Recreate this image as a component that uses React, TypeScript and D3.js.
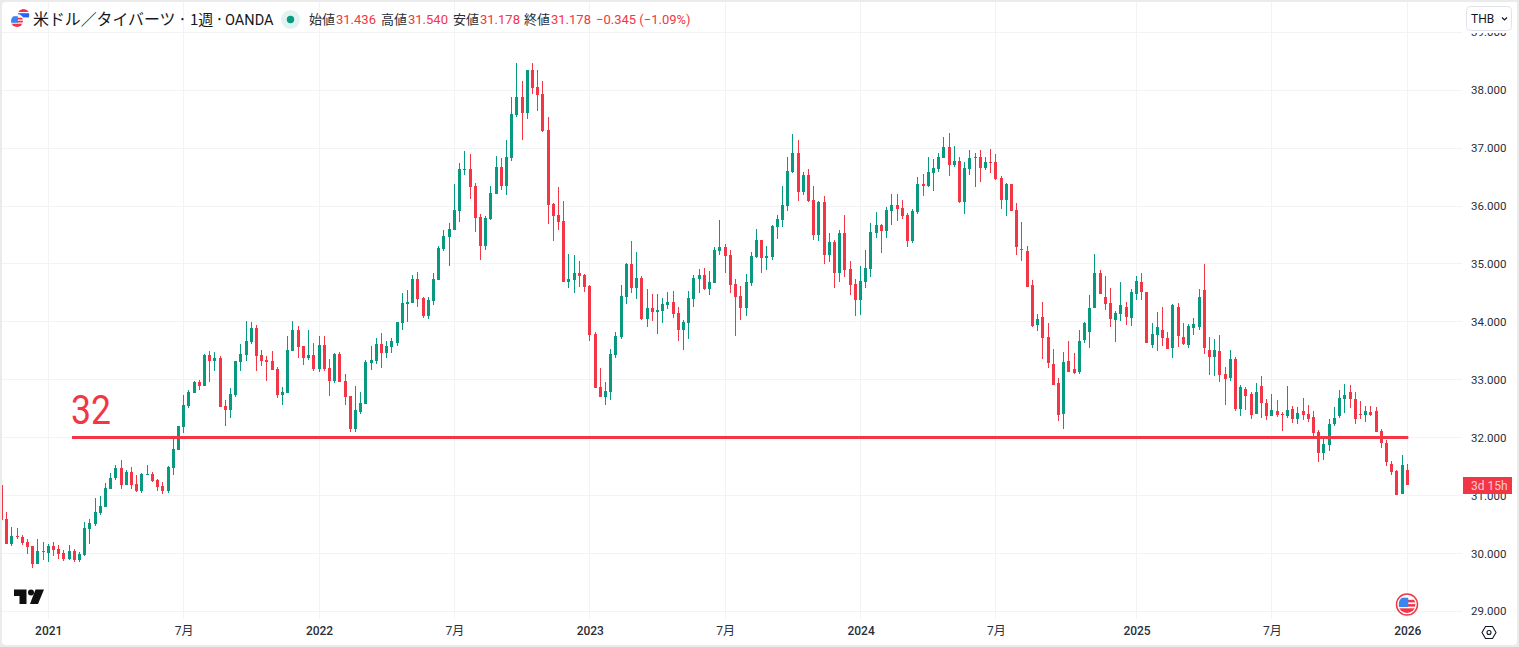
import * as d3 from "d3";
import React from "react";

const opens = [
  31.18,30.59,30.16,30.30,30.28,30.20,30.13,29.82,30.04,30.01,
  30.13,30.07,30.01,29.90,30.04,29.88,29.97,30.42,30.51,30.70,
  30.80,31.11,31.30,31.47,31.18,31.40,31.20,31.08,31.35,31.37,
  31.26,31.16,31.07,31.47,31.78,32.18,32.54,32.77,32.96,32.89,
  33.42,33.32,33.37,32.54,32.47,32.73,33.30,33.42,33.65,33.89,
  33.42,33.34,33.32,33.18,32.73,32.77,33.49,33.86,33.58,33.37,
  33.42,33.18,33.60,33.20,32.98,33.44,32.98,32.72,32.15,32.45,
  32.58,33.29,33.32,33.61,33.46,33.57,33.64,33.98,34.31,34.32,
  34.74,34.41,34.10,34.36,34.72,35.26,35.46,35.59,35.91,36.62,
  36.64,36.35,35.81,35.31,35.78,36.21,36.67,36.34,36.83,37.57,
  37.88,37.61,38.35,38.05,37.93,37.31,36.03,35.84,35.74,34.69,
  34.72,34.84,34.81,34.62,33.79,32.87,32.70,32.79,33.43,33.74,
  34.43,35.00,34.58,34.76,34.05,34.24,34.17,34.19,34.29,34.34,
  34.15,33.86,33.98,34.39,34.74,34.81,34.57,34.67,35.22,35.29,
  35.15,34.65,34.45,34.24,34.67,35.12,35.41,35.10,35.12,35.64,
  35.76,36.00,36.59,36.92,36.25,36.54,36.11,35.50,36.07,35.16,
  35.38,34.85,35.54,34.92,34.66,34.38,34.69,34.92,35.54,35.68,
  35.57,35.92,36.02,35.97,35.85,35.40,35.90,36.38,36.35,36.57,
  36.64,36.83,37.02,36.71,36.78,36.07,36.64,36.83,36.85,36.66,
  36.76,36.76,36.48,36.10,36.38,35.93,35.26,35.22,34.64,33.94,
  34.08,33.74,33.27,32.94,32.41,33.32,33.18,33.13,33.69,33.82,
  34.24,34.84,34.43,34.32,34.03,34.14,34.26,34.07,34.48,34.69,
  34.51,33.60,33.77,33.86,33.72,33.55,34.26,33.74,33.60,33.89,
  33.91,34.55,33.51,33.39,33.49,33.10,33.03,33.36,32.49,32.84,
  32.75,32.41,32.89,32.60,32.37,32.46,32.41,32.37,32.49,32.32,
  32.46,32.41,32.35,32.09,31.73,31.87,32.23,32.37,32.66,32.79,
  32.66,32.41,32.39,32.44,32.46,32.11,31.90,31.54,31.42,31.02,31.436,
];

const closes = [
  30.57,30.16,30.30,30.28,30.18,30.11,29.82,30.04,30.02,30.13,
  30.06,29.99,29.90,30.04,29.88,29.99,30.44,30.52,30.71,30.82,
  31.13,31.31,31.47,31.18,31.40,31.18,31.08,31.37,31.37,31.25,
  31.15,31.07,31.49,31.80,32.20,32.56,32.79,32.96,32.89,33.42,
  33.32,33.37,32.53,32.47,32.75,33.32,33.44,33.67,33.89,33.41,
  33.32,33.30,33.17,32.73,32.79,33.51,33.86,33.56,33.37,33.42,
  33.18,33.60,33.18,32.98,33.44,32.96,32.70,32.15,32.47,32.59,
  33.30,33.34,33.61,33.46,33.58,33.66,34.00,34.33,34.34,34.74,
  34.39,34.10,34.38,34.74,35.27,35.48,35.60,35.93,36.64,36.64,
  36.33,35.79,35.31,35.79,36.22,36.67,36.34,36.85,37.59,37.88,
  37.61,38.35,38.04,37.92,37.29,36.02,35.83,35.72,34.69,34.74,
  34.84,34.79,34.60,33.77,32.86,32.70,32.80,33.44,33.75,34.45,
  35.00,34.58,34.76,34.05,34.24,34.17,34.20,34.31,34.34,34.13,
  33.86,34.00,34.41,34.76,34.81,34.57,34.69,35.24,35.29,35.14,
  34.64,34.43,34.24,34.69,35.14,35.41,35.10,35.14,35.65,35.78,
  36.02,36.61,36.92,36.25,36.54,36.09,35.50,36.07,35.16,35.38,
  34.85,35.54,34.90,34.64,34.38,34.71,34.93,35.55,35.68,35.57,
  35.93,36.02,35.95,35.83,35.40,35.92,36.38,36.35,36.59,36.66,
  36.85,37.02,36.71,36.78,36.07,36.66,36.83,36.85,36.66,36.76,
  36.74,36.47,36.10,36.38,35.91,35.29,35.24,34.60,33.93,34.05,
  33.72,33.29,32.91,32.39,33.31,33.13,33.12,33.67,33.98,34.24,
  34.84,34.48,34.31,34.05,34.15,34.29,34.08,34.51,34.70,34.51,
  33.63,33.79,33.91,33.72,33.53,34.29,33.75,33.62,33.93,33.96,
  34.43,33.55,33.39,33.51,33.08,33.01,33.36,32.49,32.87,32.72,
  32.39,32.79,32.60,32.37,32.47,32.39,32.39,32.47,32.32,32.42,
  32.39,32.32,32.08,31.73,31.89,32.23,32.34,32.68,32.73,32.66,
  32.32,32.39,32.46,32.39,32.09,31.90,31.58,31.40,31.00,31.52,31.178,
];

const highs = [
  31.18,30.71,30.45,30.44,30.32,30.25,30.13,30.25,30.20,30.16,
  30.20,30.14,30.06,30.14,30.07,30.02,30.54,30.60,30.96,30.99,
  31.22,31.38,31.53,31.61,31.44,31.49,31.35,31.39,31.52,31.40,
  31.29,31.24,31.51,32.03,32.20,32.73,32.82,32.98,32.99,33.44,
  33.49,33.48,33.41,32.65,32.85,33.32,33.61,34.01,33.99,33.94,
  33.51,33.41,33.49,33.22,32.87,33.75,34.01,33.93,33.58,33.86,
  33.63,33.75,33.75,33.36,33.46,33.48,33.10,32.72,32.89,32.79,
  33.34,33.58,33.72,33.80,33.67,33.72,34.00,34.50,34.55,34.81,
  34.86,34.43,34.43,34.84,35.31,35.58,35.70,36.38,36.74,36.95,
  36.90,36.40,35.86,35.83,36.35,36.86,36.83,37.14,37.88,38.47,
  38.16,38.35,38.47,38.35,38.16,37.54,36.05,36.33,36.09,35.17,
  35.15,35.05,34.82,34.63,33.82,33.20,32.96,33.53,33.82,34.64,
  35.02,35.40,35.21,34.79,34.57,34.48,34.48,34.41,34.51,34.53,
  34.26,34.03,34.53,34.81,34.91,34.93,34.88,35.29,35.76,35.34,
  35.24,34.74,34.62,34.83,35.20,35.60,35.41,35.31,35.67,35.85,
  36.35,36.85,37.25,37.14,36.59,36.64,36.35,36.09,36.18,35.54,
  35.42,35.59,35.85,35.05,34.74,34.97,35.24,35.71,35.90,35.69,
  35.99,36.21,36.21,36.11,35.88,35.94,36.50,36.56,36.85,36.82,
  36.92,37.20,37.26,37.04,36.85,36.76,36.97,36.92,36.97,36.85,
  36.98,36.90,36.52,36.40,36.38,36.05,35.72,35.31,34.72,34.13,
  34.34,33.98,33.53,33.03,33.47,33.67,33.46,33.86,34.00,34.46,
  35.17,34.90,34.79,34.58,34.19,34.69,34.34,34.57,34.79,34.84,
  34.51,33.98,34.17,34.26,33.82,34.31,34.32,33.98,33.96,34.07,
  34.56,35.00,33.74,33.70,33.77,33.22,33.51,33.39,32.91,32.87,
  32.79,32.94,33.06,32.66,32.75,32.65,32.44,32.89,32.54,32.53,
  32.68,32.56,32.46,32.13,31.97,32.32,32.53,32.82,32.92,32.91,
  32.79,32.63,32.54,32.54,32.53,32.15,31.96,31.59,31.44,31.70,31.54,
];

const lows = [
  30.57,30.16,30.13,30.25,30.14,29.99,29.75,29.82,29.88,29.85,
  29.95,29.91,29.87,29.88,29.85,29.85,29.95,30.16,30.47,30.66,
  30.80,31.11,31.27,31.11,31.18,31.11,31.06,31.04,31.35,31.23,
  31.08,31.02,31.05,31.35,31.78,32.08,32.51,32.77,32.82,32.89,
  32.96,33.15,32.53,32.20,32.33,32.70,33.15,33.32,33.61,33.15,
  33.23,32.98,33.17,32.68,32.56,32.77,33.49,33.37,33.25,33.34,
  33.15,33.13,33.15,32.72,32.94,32.96,32.56,32.10,32.10,32.40,
  32.58,33.17,33.27,33.20,33.37,33.46,33.58,33.86,34.00,34.32,
  34.25,34.07,34.05,34.29,34.72,35.22,34.96,35.59,35.72,36.54,
  36.12,35.55,35.07,35.24,35.76,36.21,36.28,36.19,36.78,37.54,
  37.14,37.50,37.93,37.64,37.28,35.69,35.40,35.58,34.69,34.58,
  34.50,34.60,34.51,33.67,32.86,32.70,32.56,32.65,33.37,33.70,
  34.31,34.50,34.39,34.03,33.91,34.01,33.79,33.98,34.22,34.07,
  33.67,33.51,33.70,34.26,34.50,34.55,34.46,34.67,35.15,34.84,
  34.50,33.75,34.03,34.10,34.62,35.10,34.84,34.89,35.07,35.43,
  35.64,35.92,36.57,36.09,36.19,36.07,35.42,35.40,35.00,35.04,
  34.59,34.69,34.78,34.47,34.10,34.12,34.59,34.78,35.45,35.19,
  35.45,35.68,35.74,35.78,35.30,35.36,35.87,36.18,36.33,36.26,
  36.59,36.83,36.52,36.68,36.05,35.87,36.54,36.33,36.42,36.63,
  36.57,36.45,35.95,35.83,35.91,35.15,35.05,34.60,33.91,33.84,
  33.36,33.20,32.91,32.29,32.15,33.13,33.10,33.10,33.64,33.55,
  34.24,34.48,34.20,33.91,33.65,34.01,33.94,33.93,34.38,34.38,
  33.63,33.55,33.50,33.58,33.53,33.38,33.56,33.60,33.55,33.77,
  33.86,33.44,33.08,33.06,32.96,32.56,32.98,32.46,32.37,32.47,
  32.32,32.41,32.34,32.30,32.37,32.35,32.11,32.34,32.25,32.23,
  32.30,32.27,32.03,31.58,31.61,31.77,32.20,32.34,32.42,32.51,
  32.23,32.32,32.27,32.37,32.09,31.82,31.51,31.35,31.00,31.02,31.178,
];

const priceTicks = [29, 30, 31, 32, 33, 34, 35, 36, 37, 38, 39];
const timeTickIndex = [9, 35, 61, 87, 113, 139, 165, 191, 218, 244, 270];
const timeTickLabels = ["2021", "7月", "2022", "7月", "2023", "7月", "2024", "7月", "2025", "7月", "2026"];
const levelPrice = 32;
const headerPairs = [
  ["始値", "31.436"],
  ["高値", "31.540"],
  ["安値", "31.178"],
  ["終値", "31.178"],
];

const RED = "#F23645";
const GREEN = "#089981";
const FONT = "Roboto, 'Noto Sans CJK JP', sans-serif";
const CJK = "'Noto Sans CJK JP', sans-serif";

export default function App() {
  const ref = React.useRef<SVGSVGElement>(null);

  React.useEffect(() => {
    if (!ref.current) return;
    const svg = d3.select(ref.current);
    svg.selectAll("*").remove();

    const x = d3.scaleLinear().domain([0, 270]).range([1.4, 1407.3]);
    const y = d3.scaleLinear().domain([29, 38]).range([611.3, 90.2]);
    const px = (i: number) => Math.floor(x(i));

    // 外枠
    svg.append("rect").attr("width", 1519).attr("height", 647).attr("fill", "#ebebeb");
    svg.append("rect").attr("x", 2).attr("y", 2).attr("width", 1515).attr("height", 643).attr("rx", 4).attr("fill", "#fff");

    // グリッド
    const grid = svg.append("g").attr("shape-rendering", "crispEdges").attr("stroke", "#f2f3f5");
    priceTicks.forEach((p) => {
      const gy = Math.floor(y(p)) + 0.5;
      grid.append("line").attr("x1", 2).attr("x2", 1462).attr("y1", gy).attr("y2", gy);
    });
    timeTickIndex.forEach((i) => {
      grid.append("line").attr("x1", px(i) + 0.5).attr("x2", px(i) + 0.5).attr("y1", 2).attr("y2", 619);
    });

    // ローソク足
    const clip = svg.append("clipPath").attr("id", "plot");
    clip.append("rect").attr("x", 2).attr("y", 2).attr("width", 1460).attr("height", 617);
    const candles = svg.append("g").attr("clip-path", "url(#plot)").attr("shape-rendering", "crispEdges");
    opens.forEach((o, i) => {
      const c = closes[i];
      const color = c < o ? RED : GREEN;
      const top = Math.round(y(Math.max(o, c)));
      const bottom = Math.round(y(Math.min(o, c)));
      const hi = Math.round(y(highs[i]));
      const lo = Math.round(y(lows[i]));
      candles.append("rect").attr("x", px(i)).attr("y", hi).attr("width", 1).attr("height", Math.max(lo - hi, 1)).attr("fill", color);
      candles.append("rect").attr("x", px(i) - 1).attr("y", top).attr("width", 3).attr("height", Math.max(bottom - top, 1)).attr("fill", color);
    });

    // 水平線と注釈
    svg.append("line")
      .attr("x1", 72).attr("x2", x(270) + 1)
      .attr("y1", y(levelPrice)).attr("y2", y(levelPrice))
      .attr("stroke", RED).attr("stroke-width", 3);
    svg.append("text")
      .attr("x", 71).attr("y", y(levelPrice) - 14)
      .attr("font-family", FONT).attr("font-size", 41).attr("fill", RED)
      .attr("textLength", 40).attr("lengthAdjust", "spacingAndGlyphs")
      .text(String(levelPrice));

    // 価格軸
    const priceAxis = svg.append("g")
      .attr("transform", "translate(1465,0)")
      .call(d3.axisRight(y).tickValues(priceTicks).tickSize(0).tickPadding(6).tickFormat((d) => d3.format(".3f")(d as number)));
    priceAxis.select(".domain").remove();
    priceAxis.selectAll("text").attr("font-family", FONT).attr("font-size", 11.5).attr("fill", "#2a2e39");

    // 時間軸
    const timeAxis = svg.append("g")
      .attr("transform", "translate(0,622)")
      .call(d3.axisBottom(x).tickValues(timeTickIndex).tickSize(0).tickPadding(4)
        .tickFormat((_, k) => timeTickLabels[k]));
    timeAxis.select(".domain").remove();
    timeAxis.selectAll("text")
      .attr("font-family", FONT).attr("font-size", 12).attr("fill", "#2a2e39")
      .attr("font-weight", (_, k) => (timeTickLabels[k].length > 2 ? 500 : 400));

    // 残り時間ラベル
    svg.append("rect").attr("x", 1463).attr("y", 477).attr("width", 49).attr("height", 17).attr("fill", RED);
    svg.append("text").attr("x", 1507.5).attr("y", 485.5).attr("dy", "0.35em").attr("text-anchor", "end")
      .attr("font-family", FONT).attr("font-size", 12).attr("fill", "#fff").attr("fill-opacity", 0.75).text("3d 15h");

    // 通貨ボタン (39.000 の上半分を隠す)
    svg.append("rect").attr("x", 1463).attr("y", 2).attr("width", 54).attr("height", 31).attr("fill", "#fff");
    svg.append("rect").attr("x", 1466.5).attr("y", 6.5).attr("width", 45).attr("height", 24).attr("rx", 4)
      .attr("fill", "#fff").attr("stroke", "#e0e3eb");
    svg.append("text").attr("x", 1471).attr("y", 18.5).attr("dy", "0.35em")
      .attr("font-family", FONT).attr("font-size", 12).attr("fill", "#131722").text("THB");
    svg.append("path").attr("d", "M1502 17.5l2.5 2.5l2.5-2.5").attr("fill", "none").attr("stroke", "#131722").attr("stroke-width", 1.2);

    // 旗アイコン
    const usFlag = (cx: number, cy: number, r: number) => {
      const id = `us${cx}`;
      svg.append("clipPath").attr("id", id).append("circle").attr("cx", cx).attr("cy", cy).attr("r", r);
      const g = svg.append("g").attr("clip-path", `url(#${id})`);
      g.append("rect").attr("x", cx - r).attr("y", cy - r).attr("width", 2 * r).attr("height", 2 * r).attr("fill", "#fff");
      g.append("rect").attr("x", cx).attr("y", cy - r * 0.55).attr("width", r).attr("height", r * 0.3).attr("fill", RED);
      g.append("rect").attr("x", cx).attr("y", cy - r * 0.05).attr("width", r).attr("height", r * 0.3).attr("fill", RED);
      g.append("rect").attr("x", cx - r).attr("y", cy + r * 0.45).attr("width", 2 * r).attr("height", r * 0.55).attr("fill", RED);
      g.append("rect").attr("x", cx - r).attr("y", cy - r * 0.8).attr("width", r * 1.15).attr("height", r * 1.1).attr("fill", "#3a86f0");
    };
    const thaiFlag = (cx: number, cy: number, r: number) => {
      svg.append("clipPath").attr("id", "thai").append("circle").attr("cx", cx).attr("cy", cy).attr("r", r);
      const g = svg.append("g").attr("clip-path", "url(#thai)");
      g.append("rect").attr("x", cx - r).attr("y", cy - r).attr("width", 2 * r).attr("height", 2 * r).attr("fill", "#fff");
      g.append("rect").attr("x", cx - r).attr("y", cy - r).attr("width", 2 * r).attr("height", r * 0.5).attr("fill", RED);
      g.append("rect").attr("x", cx - r).attr("y", cy - r * 0.3).attr("width", 2 * r).attr("height", r * 0.7).attr("fill", "#2962FF");
    };

    // ヘッダー
    thaiFlag(23.5, 15, 6);
    svg.append("circle").attr("cx", 17).attr("cy", 21).attr("r", 7).attr("fill", "#fff");
    usFlag(17, 21, 6);

    const title = svg.append("text").attr("y", 19.5).attr("dy", "0.36em").attr("font-size", 15.9).attr("fill", "#131722").attr("font-family", CJK);
    title.append("tspan").attr("x", 33).text("米ドル／タイバーツ");
    title.append("tspan").attr("x", 178).text("·");
    title.append("tspan").attr("x", 190).attr("font-size", 15).text("1週");
    title.append("tspan").attr("x", 215).text("·");
    title.append("tspan").attr("x", 225).attr("font-family", FONT).attr("font-size", 14.5).text("OANDA");

    svg.append("circle").attr("cx", 290.5).attr("cy", 19.5).attr("r", 9.5).attr("fill", GREEN).attr("fill-opacity", 0.12);
    svg.append("circle").attr("cx", 290.5).attr("cy", 19.5).attr("r", 3.7).attr("fill", GREEN);

    const labelX = [309, 381, 453, 524];
    headerPairs.forEach(([label, value], k) => {
      svg.append("text").attr("x", labelX[k]).attr("y", 19.5).attr("dy", "0.36em")
        .attr("font-family", CJK).attr("font-size", 13).attr("fill", "#2a2e39").text(label);
      svg.append("text").attr("x", labelX[k] + 27).attr("y", 19.5).attr("dy", "0.36em")
        .attr("font-family", FONT).attr("font-size", 13).attr("fill", RED).text(value);
    });
    svg.append("text").attr("x", 596).attr("y", 19.5).attr("dy", "0.36em")
      .attr("font-family", FONT).attr("font-size", 13).attr("fill", RED).text("−0.345 (−1.09%)");

    // TradingViewロゴ
    svg.append("path").attr("d", "M14 589.5H26.5V604H19.5V596H14Z").attr("fill", "#0f0f0f");
    svg.append("circle").attr("cx", 31).attr("cy", 592.6).attr("r", 3).attr("fill", "#0f0f0f");
    svg.append("path").attr("d", "M35.5 589.5H44L38 604H30Z").attr("fill", "#0f0f0f");

    // 右下の通貨アイコンと設定
    svg.append("circle").attr("cx", 1407).attr("cy", 604.5).attr("r", 10.5).attr("fill", "#fff").attr("stroke", RED).attr("stroke-width", 1.5);
    usFlag(1407, 604.5, 8.5);
    svg.append("path").attr("d", "M1482 632.5L1485.5 626.5H1492.5L1496 632.5L1492.5 638.5H1485.5Z").attr("fill", "none").attr("stroke", "#131722").attr("stroke-width", 1.1);
    svg.append("circle").attr("cx", 1489).attr("cy", 632.5).attr("r", 2).attr("fill", "none").attr("stroke", "#131722").attr("stroke-width", 1.1);
  }, []);

  return <svg ref={ref} width={1519} height={647} style={{ position: "absolute", left: 0, top: 0, display: "block" }} />;
}
